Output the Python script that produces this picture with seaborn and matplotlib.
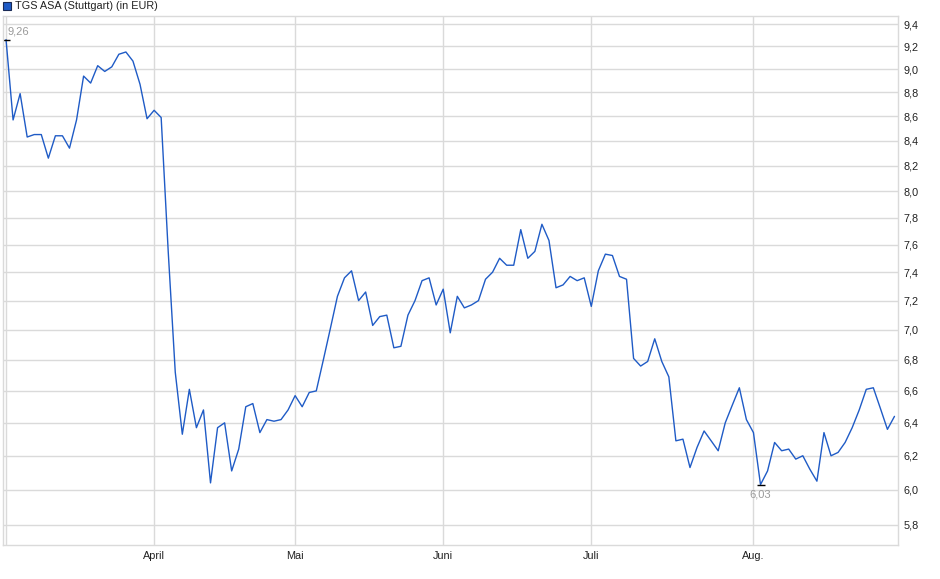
# plot.py
# TGS ASA (Stuttgart) price chart, March - August, log scale on the right

import numpy as np
import pandas as pd
import seaborn as sns
import matplotlib.pyplot as plt
from matplotlib.patches import Rectangle

# --- data ---
start_date = "2025-03-03"
end_date = "2025-08-29"
exchange_holidays = ["2025-04-18", "2025-04-21", "2025-05-01"]

prices = [
    9.26, 8.57, 8.79, 8.43, 8.45, 8.45, 8.26, 8.44, 8.44, 8.34,
    8.57, 8.94, 8.88, 9.03, 8.98, 9.02, 9.13, 9.15, 9.07, 8.87,
    8.58, 8.65, 8.59, 7.55, 6.72, 6.33, 6.61, 6.37, 6.48, 6.04,
    6.37, 6.40, 6.11, 6.24, 6.50, 6.52, 6.34, 6.42, 6.41, 6.42,
    6.48, 6.57, 6.50, 6.59, 6.60, 6.80, 7.01, 7.23, 7.36, 7.41,
    7.20, 7.26, 7.03, 7.09, 7.10, 6.88, 6.89, 7.10, 7.20, 7.34,
    7.36, 7.17, 7.28, 6.98, 7.23, 7.15, 7.17, 7.20, 7.35, 7.40,
    7.50, 7.45, 7.45, 7.71, 7.50, 7.55, 7.75, 7.63, 7.29, 7.31,
    7.37, 7.34, 7.36, 7.16, 7.41, 7.53, 7.52, 7.37, 7.35, 6.81,
    6.76, 6.79, 6.94, 6.79, 6.69, 6.29, 6.30, 6.13, 6.25, 6.35,
    6.29, 6.23, 6.40, 6.51, 6.62, 6.42, 6.34, 6.03, 6.11, 6.28,
    6.23, 6.24, 6.18, 6.20, 6.12, 6.05, 6.34, 6.20, 6.22, 6.28,
    6.37, 6.48, 6.61, 6.62, 6.49, 6.36, 6.44,
]

month_names = ["März", "April", "Mai", "Juni", "Juli", "Aug."]
y_ticks = [5.8, 6.0, 6.2, 6.4, 6.6, 6.8, 7.0, 7.2, 7.4, 7.6, 7.8,
           8.0, 8.2, 8.4, 8.6, 8.8, 9.0, 9.2, 9.4]
title = "TGS ASA (Stuttgart) (in EUR)"

LINE = "#1f5bc6"
GRID = "#dadada"
LABEL_GREY = "#9a9a9a"

# trading days (x axis is a trading-day index, not calendar time)
dates = pd.bdate_range(start_date, end_date, freq="C", holidays=exchange_holidays)
df = pd.DataFrame({"date": dates, "price": prices})
df["idx"] = np.arange(len(df))

# first trading day of each month -> vertical grid lines
month_starts = df.groupby(df["date"].dt.to_period("M"))["idx"].min().tolist()

sns.set_style("white")
plt.rcParams["font.family"] = ["Liberation Sans", "DejaVu Sans"]

fig = plt.figure(figsize=(9.4, 5.79), dpi=100)
ax = fig.add_axes([3 / 940, 34 / 579, 895 / 940, 529 / 579])

sns.lineplot(data=df, x="idx", y="price", ax=ax, color=LINE, linewidth=1.0)

ax.set_yscale("log")
ax.set_ylim(5.689, 9.473)
ax.set_xlim(-0.43, len(df) - 0.5)

ax.set_yticks(y_ticks)
ax.set_yticklabels([f"{v:.1f}".replace(".", ",") for v in y_ticks])
ax.yaxis.set_minor_locator(plt.NullLocator())
ax.yaxis.tick_right()

ax.set_xticks(month_starts)
ax.set_xticklabels([""] + month_names[1:])

ax.grid(True, color=GRID, linewidth=1.0)
ax.set_axisbelow(True)
ax.tick_params(axis="both", length=0, labelsize=7.8, colors="#222222")
ax.tick_params(axis="y", pad=4)
ax.tick_params(axis="x", pad=4)
for spine in ax.spines.values():
    spine.set_color(GRID)
    spine.set_linewidth(1.0)
ax.set_xlabel("")
ax.set_ylabel("")

# high / low markers
hi = int(np.argmax(prices))
lo = int(np.argmin(prices))
ax.plot([hi], [prices[hi]], marker="_", markersize=6, color="black", mew=1)
ax.plot([lo], [prices[lo]], marker="_", markersize=6, color="black", mew=1)
ax.annotate(f"{prices[hi]:.2f}".replace(".", ","), xy=(hi, prices[hi]),
            xytext=(1, 3), textcoords="offset pixels", ha="left", va="bottom",
            fontsize=8, color=LABEL_GREY)
ax.annotate(f"{prices[lo]:.2f}".replace(".", ","), xy=(lo, prices[lo]),
            xytext=(0, -5), textcoords="offset pixels", ha="center", va="top",
            fontsize=8, color=LABEL_GREY)

# legend box at top left
fig.patches.append(Rectangle((3 / 940, 1 - 10 / 579), 8 / 940, 8 / 579,
                             transform=fig.transFigure, facecolor=LINE,
                             edgecolor="#1a2a55", linewidth=0.8))
fig.text(15 / 940, 1 - 6 / 579, title, ha="left", va="center",
         fontsize=7.8, color="#222222")

fig.savefig("out.png", dpi=100, facecolor="white")
